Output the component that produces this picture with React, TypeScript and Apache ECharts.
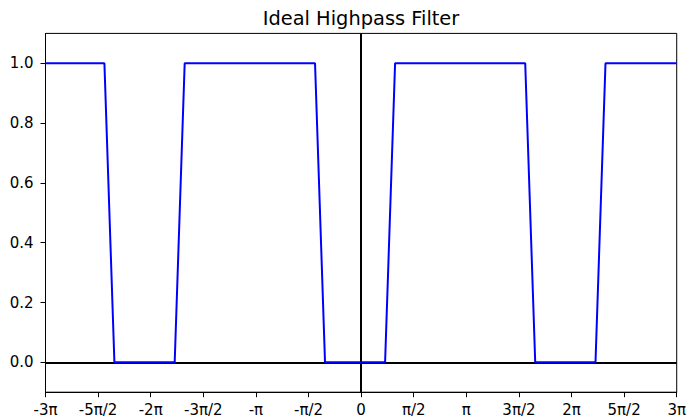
import React, { useEffect, useRef } from "react";
import * as echarts from "echarts";

// Frequency samples (in units of π) at the filter's breakpoints, and the response there
const omegaPi = [-3, -2.440, -2.345, -1.772, -1.677, -0.438, -0.343, 0.228, 0.323, 1.560, 1.655, 2.228, 2.323, 3];
const response = [1, 1, 0, 0, 1, 1, 0, 0, 1, 1, 0, 0, 1, 1];

const xTickLabels = ["-3π", "-5π/2", "-2π", "-3π/2", "-π", "-π/2", "0", "π/2", "π", "3π/2", "2π", "5π/2", "3π"];
const yTicks = [0, 0.2, 0.4, 0.6, 0.8, 1.0];
const title = "Ideal Highpass Filter";

const FONT = "DejaVu Sans";

export default function App() {
  const ref = useRef<HTMLDivElement>(null);
  useEffect(() => {
    if (!ref.current) return;
    const chart = echarts.init(ref.current, null, { renderer: "svg" });
    const data = omegaPi.map((x, i) => [x, response[i]]);
    chart.setOption({
      animation: false,
      backgroundColor: "#ffffff",
      title: {
        text: title,
        left: 356,
        textAlign: "center",
        top: 4,
        textStyle: { fontFamily: FONT, fontSize: 19.4, fontWeight: "normal", color: "#000" },
      },
      grid: {
        left: 45.5,
        right: 10,
        top: 33.4,
        bottom: 26.8,
        containLabel: false,
        show: true,
        borderColor: "#000",
        borderWidth: 1,
        backgroundColor: "transparent",
      },
      xAxis: {
        type: "value",
        min: -3,
        max: 3,
        interval: 0.5,
        splitLine: { show: false },
        axisLine: { show: true, onZero: false, lineStyle: { color: "#000", width: 1 } },
        axisTick: { show: true, length: 5, lineStyle: { color: "#000", width: 1 } },
        axisLabel: {
          show: true,
          margin: 10,
          color: "#000",
          fontFamily: FONT,
          fontSize: 15,
          showMinLabel: true,
          showMaxLabel: true,
          formatter: (v: number) => xTickLabels[Math.round((v + 3) * 2)] ?? "",
        },
      },
      yAxis: {
        type: "value",
        min: -0.1,
        max: 1.1,
        splitLine: { show: false },
        axisLine: { show: true, onZero: false, lineStyle: { color: "#000", width: 1 } },
        axisTick: { show: true, length: 5, customValues: yTicks, lineStyle: { color: "#000", width: 1 } },
        axisLabel: {
          show: true,
          margin: 12,
          color: "#000",
          fontFamily: FONT,
          fontSize: 15,
          customValues: yTicks,
          formatter: (v: number) => v.toFixed(1),
        },
      },
      series: [
        {
          type: "line",
          data: [],
          z: 1,
          silent: true,
          markLine: {
            silent: true,
            symbol: "none",
            z: 1,
            label: { show: false },
            lineStyle: { color: "#000", width: 2, type: "solid" },
            data: [{ xAxis: 0 }, { yAxis: 0 }],
          },
        },
        {
          type: "line",
          data,
          z: 3,
          showSymbol: false,
          symbol: "none",
          silent: true,
          lineStyle: { color: "#0000ff", width: 2 },
        },
      ],
    });
    return () => chart.dispose();
  }, []);
  return <div ref={ref} style={{ position: "fixed", left: 0, top: 0, width: 689, height: 419 }} />;
}
